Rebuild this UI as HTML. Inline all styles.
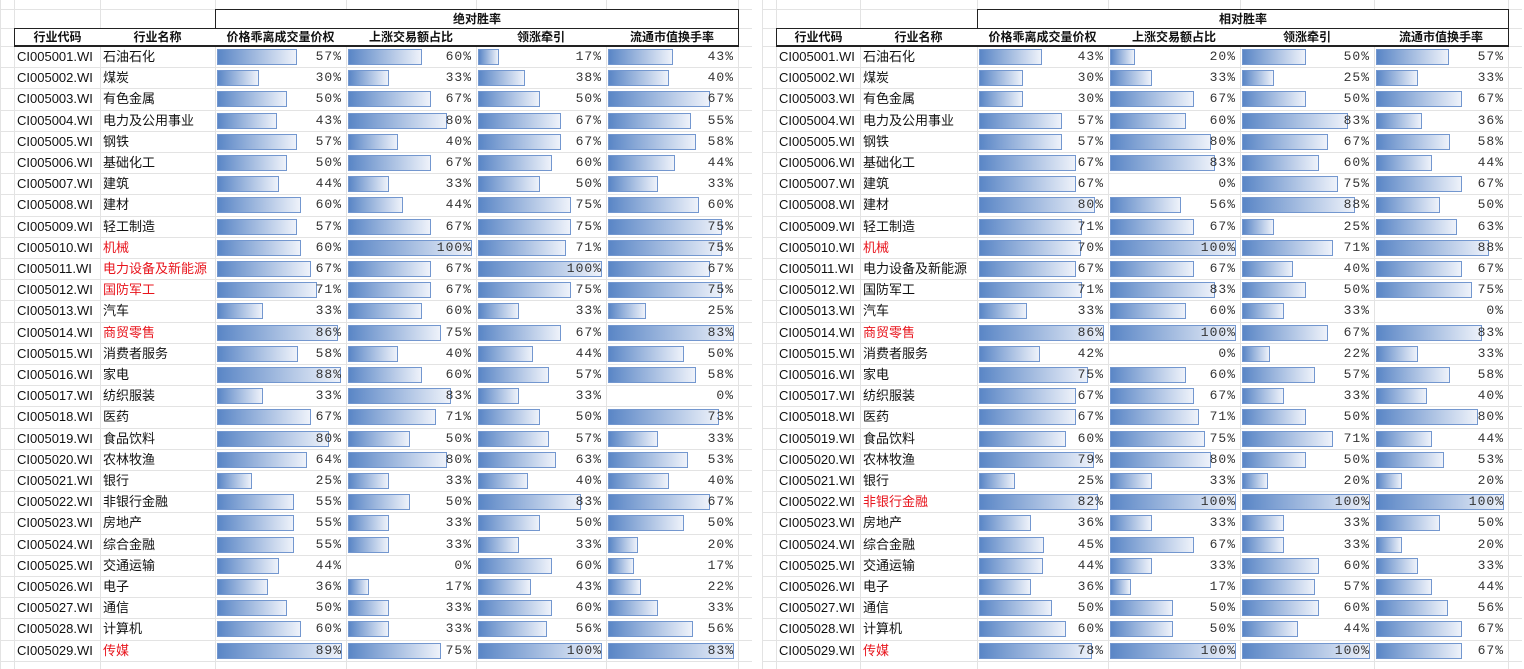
<!DOCTYPE html>
<html><head><meta charset="utf-8">
<style>
body{margin:0;width:1524px;height:669px;background:#fff;overflow:hidden;position:relative;font-family:"Liberation Sans","Noto Sans CJK SC",sans-serif;}
.c{position:absolute;box-sizing:border-box;white-space:nowrap;overflow:visible;}
.g{position:absolute;background:#e3e3e3;}
.hd{font-weight:bold;font-size:12px;text-align:center;color:#111;}
.txt{font-size:13px;color:#111;}
.pct{font-family:"Liberation Mono","DejaVu Sans Mono",monospace;font-size:13px;color:#333;text-align:right;letter-spacing:1px;}
.bar{position:absolute;height:16px;border:1px solid #7397cf;box-sizing:border-box;background:linear-gradient(to right,#5a86c6,#eef2fa);}
</style></head><body>
<script>
const names=["石油石化","煤炭","有色金属","电力及公用事业","钢铁","基础化工","建筑","建材","轻工制造","机械","电力设备及新能源","国防军工","汽车","商贸零售","消费者服务","家电","纺织服装","医药","食品饮料","农林牧渔","银行","非银行金融","房地产","综合金融","交通运输","电子","通信","计算机","传媒"];
const metrics=["价格乖离成交量价权","上涨交易额占比","领涨牵引","流通市值换手率"];
const absC1=[57,30,50,43,57,50,44,60,57,60,67,71,33,86,58,88,33,67,80,64,25,55,55,55,44,36,50,60,89];
const absC2=[60,33,67,80,40,67,33,44,67,100,67,67,60,75,40,60,83,71,50,80,33,50,33,33,0,17,33,33,75];
const absC3=[17,38,50,67,67,60,50,75,75,71,100,75,33,67,44,57,33,50,57,63,40,83,50,33,60,43,60,56,100];
const absC4=[43,40,67,55,58,44,33,60,75,75,67,75,25,83,50,58,0,73,33,53,40,67,50,20,17,22,33,56,83];
const relC1=[43,30,30,57,57,67,67,80,71,70,67,71,33,86,42,75,67,67,60,79,25,82,36,45,44,36,50,60,78];
const relC2=[20,33,67,60,80,83,0,56,67,100,67,83,60,100,0,60,67,71,75,80,33,100,33,67,33,17,50,50,100];
const relC3=[50,25,50,83,67,60,75,88,25,71,40,50,33,67,22,57,33,50,71,50,20,100,33,33,60,57,60,44,100];
const relC4=[57,33,67,36,58,44,67,50,63,88,67,75,0,83,33,58,40,80,44,53,20,100,50,20,33,44,56,67,67];
const absRed=[10,11,12,14,29];
const relRed=[10,14,22,29];

const body=document.body;
function mk(cls,x,y,w,h,txt){const d=document.createElement('div');d.className=cls;d.style.left=x+'px';d.style.top=y+'px';d.style.width=w+'px';d.style.height=h+'px';if(txt!==undefined)d.textContent=txt;body.appendChild(d);return d;}
const y0=46,rh=21.2;
function table(x0,cols,title,data,red,prefix){
  for(let i=0;i<=29;i++){const g=mk('g',x0-14,Math.round(y0+rh*i),cols[6]-x0+28,1);}
  for(const cx of [x0-14,...cols]){const g=mk('g',cx,0,1,669);}
  const g2=mk('g',x0-14,28,cols[6]-x0+28,1);
  const g3=mk('g',x0-14,9,cols[6]-x0+28,1);
  const t=mk('c hd',cols[2],9,cols[6]-cols[2]+1,20,title);
  t.style.border='1px solid #222';t.style.borderBottom='none';t.style.background='#fff';t.style.lineHeight='18px';
  
  const hdr=["行业代码","行业名称",...metrics];
  for(let i=0;i<6;i++){
    const h=mk('c hd',cols[i],28,cols[i+1]-cols[i]+1,19,hdr[i]);
    h.style.border='1px solid #222';h.style.background='#fff';h.style.lineHeight='17px';h.style.borderBottomWidth='2px';
    if(i>0)h.style.borderLeft='none';
    
  }
  for(let r=0;r<29;r++){
    const y=y0+rh*r+1;
    const code=mk('c txt',cols[0]+3,y,cols[1]-cols[0]-3,rh-1,'CI0050'+String(r+1).padStart(2,'0')+'.WI');
    code.style.lineHeight=(rh-1)+'px';
    
    const nm=mk('c txt',cols[1]+3,y,cols[2]-cols[1]-3,rh-1,names[r]);
    nm.style.lineHeight=(rh-1)+'px';if(red.includes(r+1))nm.style.color='#e8141c';
    
    for(let m=0;m<4;m++){
      const arr=data[m];const mx=Math.max(...arr);const cx=cols[2+m];const cw=cols[3+m]-cx;
      const v=arr[r];
      if(v>0){const b=mk('bar',cx+2,y+2,(cw-6)*v/mx,16);
        }
      const p=mk('c pct',cx,y,cw-4,rh-1,v+'%');p.style.lineHeight=(rh-1)+'px';
      
    }
  }
}
table(14,[14,100,215,346,476,606,738],"绝对胜率",[absC1,absC2,absC3,absC4],absRed,'absolute');
table(776,[776,860,977,1108,1240,1374,1508],"相对胜率",[relC1,relC2,relC3,relC4],relRed,'relative');
</script>
</body></html>
